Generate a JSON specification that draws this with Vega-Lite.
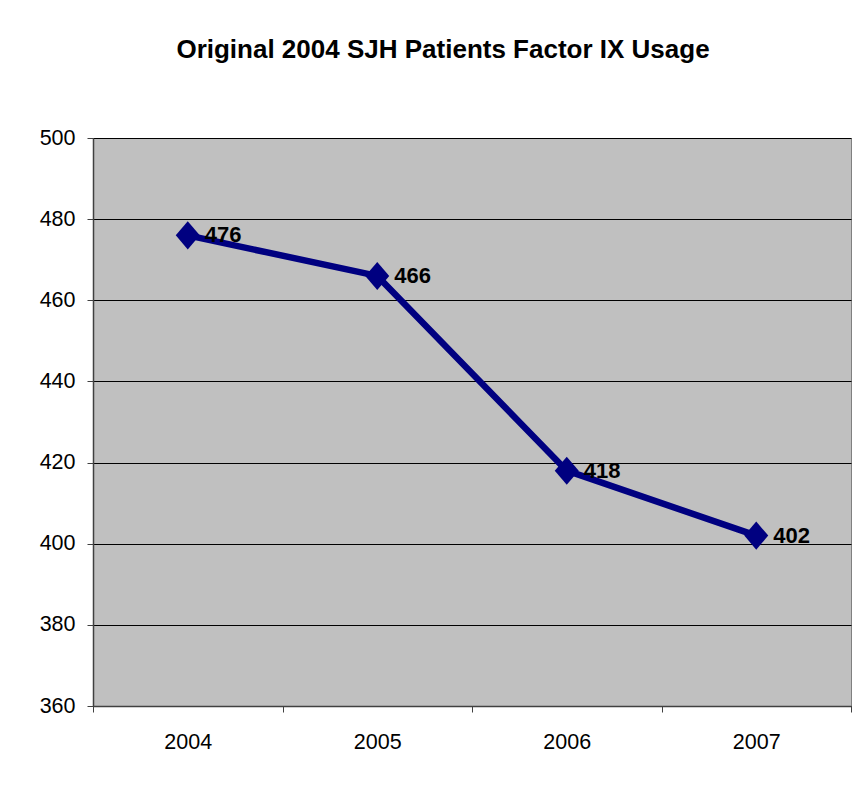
{
  "$schema": "https://vega.github.io/schema/vega-lite/v6.json",
  "autosize": "none",
  "width": 758,
  "height": 568,
  "padding": {"left": 93, "top": 138, "right": 9, "bottom": 82},
  "background": "white",
  "title": {
    "text": "Original 2004 SJH Patients Factor IX Usage",
    "font": "Liberation Sans",
    "fontSize": 26,
    "fontWeight": "bold",
    "color": "black",
    "anchor": "middle",
    "baseline": "alphabetic",
    "dx": -29,
    "offset": 43
  },
  "config": {
    "view": {"fill": "#C0C0C0", "stroke": "#808080", "strokeWidth": 1},
    "axis": {"labelFont": "Liberation Sans", "labelColor": "black"}
  },
  "data": {
    "values": [
      {"year": "2004", "usage": 476},
      {"year": "2005", "usage": 466},
      {"year": "2006", "usage": 418},
      {"year": "2007", "usage": 402}
    ]
  },
  "encoding": {
    "x": {
      "field": "year",
      "type": "ordinal",
      "scale": {"type": "band", "paddingInner": 0, "paddingOuter": 0},
      "axis": {
        "title": null,
        "labelAngle": 0,
        "labelFontSize": 21.5,
        "labelPadding": 19,
        "tickBand": "extent",
        "tickSize": 6,
        "tickColor": "#404040",
        "domainColor": "#404040",
        "domainWidth": 1.5,
        "grid": false
      }
    },
    "y": {
      "field": "usage",
      "type": "quantitative",
      "scale": {"domain": [360, 500], "nice": false, "zero": false},
      "axis": {
        "title": null,
        "values": [360, 380, 400, 420, 440, 460, 480, 500],
        "labelFontSize": 21.5,
        "labelPadding": 12,
        "tickSize": 6,
        "tickColor": "#404040",
        "domainColor": "#404040",
        "domainWidth": 1.5,
        "grid": true,
        "gridColor": "black",
        "gridWidth": 1,
        "gridOpacity": 1
      }
    }
  },
  "layer": [
    {
      "mark": {"type": "line", "color": "#000080", "strokeWidth": 6.5}
    },
    {
      "mark": {
        "type": "point",
        "shape": "M-1,0L0,-1.17L1,0L0,1.17Z",
        "filled": true,
        "color": "#000080",
        "opacity": 1,
        "size": 576
      }
    },
    {
      "mark": {
        "type": "text",
        "font": "Liberation Sans",
        "fontSize": 22,
        "fontWeight": "bold",
        "color": "black",
        "align": "left",
        "baseline": "middle",
        "dx": 17,
        "dy": 0
      },
      "encoding": {"text": {"field": "usage", "type": "quantitative"}}
    }
  ]
}
